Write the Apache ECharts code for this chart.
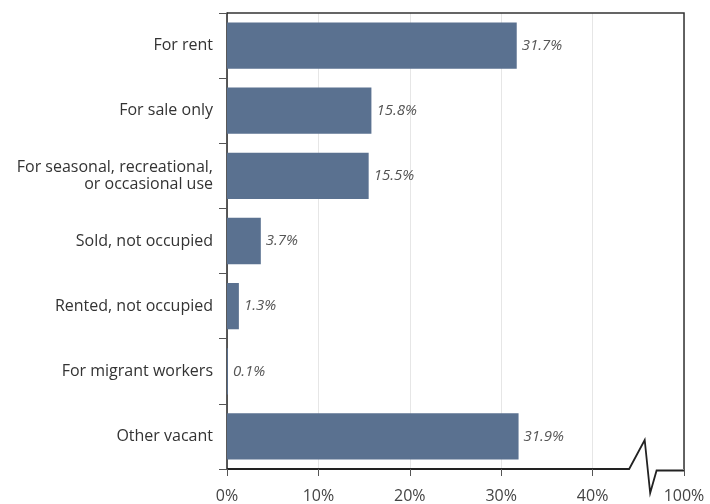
<!DOCTYPE html>
<html>
<head>
<meta charset="utf-8">
<script src="https://cdn.jsdelivr.net/npm/echarts@6/dist/echarts.min.js"></script>
<style>
  html, body { margin: 0; padding: 0; background: #fff; }
  #chart { width: 710px; height: 504px; }
</style>
</head>
<body>
<div id="chart"></div>
<script>
// Vacant housing units by reason for vacancy (percent of all vacant units)
const categories = [
  'For rent',
  'For sale only',
  'For seasonal, recreational,\nor occasional use',
  'Sold, not occupied',
  'Rented, not occupied',
  'For migrant workers',
  'Other vacant'
];
const shares = [31.7, 15.8, 15.5, 3.7, 1.3, 0.1, 31.9];

// The value axis runs 0–40% and then jumps to 100%; the last tick slot stands for 100%.
const axisMax = 50;
const tickLabels = { 0: '0%', 10: '10%', 20: '20%', 30: '30%', 40: '40%', 50: '100%' };

const FONT = '"Open Sans", Lato, sans-serif';
const chart = echarts.init(document.getElementById('chart'), null, { renderer: 'canvas' });

chart.setOption({
  animation: false,
  backgroundColor: '#ffffff',
  grid: { left: 227, right: 26, top: 13, bottom: 35, containLabel: false },
  xAxis: {
    type: 'value',
    min: 0,
    max: axisMax,
    interval: 10,
    axisLine: { show: false },
    axisTick: { show: true, length: 7, lineStyle: { color: '#555', width: 1 } },
    axisLabel: {
      margin: 19,
      fontFamily: FONT,
      fontSize: 16,
      color: '#444',
      formatter: v => tickLabels[v] || ''
    },
    splitLine: { show: true, lineStyle: { color: '#e6e6e6', width: 1 } }
  },
  yAxis: {
    type: 'category',
    data: categories,
    inverse: true,
    axisLine: { show: true, lineStyle: { color: '#222', width: 1.5 } },
    axisTick: { show: true, length: 8, lineStyle: { color: '#555', width: 1 } },
    axisLabel: {
      margin: 14,
      fontFamily: FONT,
      fontSize: 16,
      color: '#333',
      lineHeight: 17
    },
    splitLine: { show: false }
  },
  series: [{
    type: 'bar',
    data: shares,
    barCategoryGap: '29%',
    itemStyle: { color: '#5a7190' },
    label: {
      show: true,
      position: 'right',
      distance: 5,
      fontFamily: FONT,
      fontStyle: 'italic',
      fontSize: 15,
      color: '#555',
      formatter: p => p.value.toFixed(1) + '%'
    }
  }]
});

// Frame lines and the broken bottom axis, placed through the axis scales
const rect = chart.getModel().getComponent('grid', 0).coordinateSystem.getRect();
const yTop = rect.y, yBot = rect.y + rect.height;
const xAt = v => chart.convertToPixel({ xAxisIndex: 0 }, v);

const breakStart = 44, breakPeak = 45.7, breakLow = 46.3, breakEnd = 47;

chart.setOption({
  graphic: [
    {
      type: 'polyline',
      silent: true,
      shape: { points: [[xAt(0), yTop], [xAt(axisMax), yTop], [xAt(axisMax), yBot]] },
      style: { stroke: '#333', lineWidth: 1.5, fill: null }
    },
    {
      type: 'polyline',
      silent: true,
      shape: {
        points: [
          [xAt(0), yBot],
          [xAt(breakStart), yBot],
          [xAt(breakPeak), yBot - 29],
          [xAt(breakLow), yBot + 24],
          [xAt(breakEnd), yBot + 1.5],
          [xAt(axisMax), yBot + 1.5]
        ]
      },
      style: { stroke: '#222', lineWidth: 1.8, fill: null, lineJoin: 'miter' }
    }
  ]
});
</script>
</body>
</html>
